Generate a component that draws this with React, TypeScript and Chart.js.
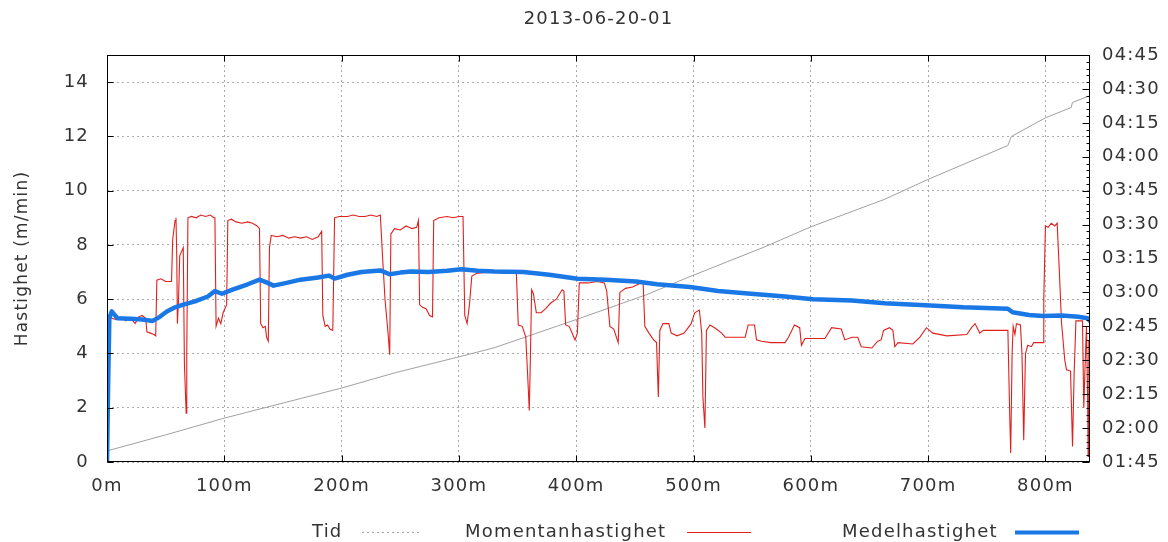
import React, { useEffect, useRef } from "react";
import { Chart, registerables } from "chart.js";

Chart.register(...registerables);

const chartTitle = "2013-06-20-01";
const yAxisTitle = "Hastighet (m/min)";
const legendLabels = ["Tid", "Momentanhastighet", "Medelhastighet"];

// x range (metres) and axis limits
const xMax = 838;
const xStep = 100;
const speedMin = 0;
const speedMax = 15;
const speedStep = 2;
// right axis: minutes since midnight (01:45 .. 04:45)
const timeMin = 105;
const timeMax = 285;
const timeStep = 15;

// Tid: [distance m, minutes since midnight]
const tid: [number, number][] = [
  [0, 109.9], [50, 117], [100, 124.4], [166, 133.2], [200, 137.7], [245, 144.4],
  [300, 151.5], [330, 155.5], [400, 168], [460, 179], [497, 187], [560, 200],
  [600, 209], [663, 221.2], [700, 230], [768, 245], [771, 249], [800, 257.2],
  [822, 261.8], [823, 264], [838, 267],
];

// Momentanhastighet: [distance m, m/min]
const momentan: [number, number][] = [
  [0, 4.1], [0.5, 4.9], [1, 4.3], [2, 5.4], [4, 5.3], [8, 5.25], [12, 5.35], [16, 5.2],
  [20, 5.3], [24, 5.1], [27, 5.35], [30, 5.4], [33, 5.3], [34, 4.8], [37, 4.75], [40, 4.7],
  [41.5, 4.65], [42.5, 6.7], [46, 6.75], [50, 6.65], [55, 6.65], [56, 8.2], [58, 8.9],
  [58.8, 9.0], [59.5, 7.5], [60, 5.1], [61, 6.0], [62, 7.6], [64, 7.8], [65, 7.9],
  [66, 3.6], [67.5, 1.8], [68, 4.0], [69, 9.0], [72, 9.05], [76, 9.0], [80, 9.1],
  [84, 9.05], [88, 9.1], [91, 9.0], [92, 9.0], [93, 5.0], [95, 5.3], [97, 5.1], [99, 5.5],
  [102, 5.8], [103, 8.9], [106, 8.95], [110, 8.85], [115, 8.8], [120, 8.85], [124, 8.8],
  [128, 8.7], [130, 8.6], [131, 5.1], [133, 4.95], [135, 5.0], [136, 4.6], [137.5, 4.45],
  [138.5, 7.9], [140, 8.35], [145, 8.3], [150, 8.35], [155, 8.25], [160, 8.3], [165, 8.25],
  [170, 8.3], [175, 8.2], [180, 8.3], [183, 8.5], [184, 5.4], [186, 5.0], [188, 5.05],
  [190, 4.9], [192.5, 4.85], [194, 9.0], [198, 9.05], [205, 9.05], [210, 9.1], [215, 9.05],
  [220, 9.05], [225, 9.1], [230, 9.05], [233, 9.1], [235, 7.5], [237, 6.0], [239.5, 4.8],
  [241, 3.95], [242, 8.4], [245, 8.6], [250, 8.55], [255, 8.7], [260, 8.6], [264, 8.65],
  [265.5, 8.9], [266.5, 5.8], [269, 5.7], [272, 5.65], [275, 5.4], [277.5, 5.35],
  [278.5, 8.9], [283, 9.0], [290, 9.05], [295, 9.0], [300, 9.05], [303.5, 9.05],
  [305, 5.4], [307, 5.1], [309, 5.8], [311, 6.85], [315, 6.95], [320, 6.98], [330, 7.0],
  [340, 6.95], [349, 6.95], [350.6, 5.05], [354, 5.0], [357, 4.6], [358.5, 3.3], [360, 1.9],
  [361, 4.0], [362, 6.35], [363.5, 6.2], [366, 5.5], [370, 5.5], [374, 5.65], [378, 5.85],
  [383, 6.0], [388, 6.35], [389.5, 6.3], [391, 5.05], [394, 5.0], [397, 4.7], [399, 4.5],
  [401, 4.75], [402.6, 6.6], [410, 6.6], [418, 6.65], [424, 6.6], [426, 6.3], [428.7, 5.0],
  [432, 4.9], [435.8, 4.4], [437.2, 6.25], [442, 6.4], [448, 6.45], [453, 6.55], [457, 6.65],
  [458.5, 5.0], [462, 4.75], [466, 4.5], [468.5, 4.4], [470, 2.4], [471.3, 4.85], [474, 5.1],
  [479, 5.1], [481, 4.75], [486, 4.65], [492, 4.75], [498, 5.1], [501, 5.5], [505, 5.6],
  [507, 4.75], [508, 2.4], [509.7, 1.25], [511, 4.85], [514, 5.05], [518, 4.95], [524, 4.75],
  [527, 4.6], [544, 4.6], [546.6, 5.05], [552, 5.05], [553.7, 4.5], [558, 4.45], [566, 4.4],
  [578, 4.4], [581, 4.6], [586, 5.05], [590.5, 4.95], [592, 4.3], [595, 4.55], [612, 4.55],
  [617.7, 4.95], [626, 4.9], [629, 4.5], [635, 4.6], [640, 4.6], [643, 4.25], [652, 4.2],
  [657, 4.45], [660, 4.5], [662, 4.85], [667, 4.95], [670, 4.85], [671.6, 4.25], [674.4, 4.4],
  [687, 4.35], [693, 4.6], [698.6, 4.95], [704, 4.75], [716, 4.65], [733, 4.7], [737, 4.95],
  [740, 5.1], [744, 4.75], [747, 4.85], [768, 4.85], [769.6, 1.67], [770.4, 0.33], [771.6, 4.0],
  [772.5, 5.0], [774, 4.7], [775.3, 5.1], [778.7, 5.05], [780, 4.0], [781.5, 0.8], [783, 4.0],
  [785, 4.3], [788, 4.25], [790, 4.4], [798, 4.4], [798.6, 6.0], [800, 8.7], [802.3, 8.65],
  [805, 8.8], [808, 8.7], [810, 8.8], [811.7, 7.2], [813.7, 5.15], [816.5, 3.75], [818, 3.4],
  [821.4, 3.35], [823.1, 0.57], [824.5, 3.3], [826, 5.2], [829.3, 5.2], [831.6, 5.2],
  [832.7, 2.0], [834, 3.8], [835, 5.0], [836, 2.3], [836.4, 0.2], [837, 4.5], [837.6, 0.9],
  [838, 4.8],
];

// Medelhastighet: [distance m, m/min]
const medel: [number, number][] = [
  [0, 0], [1, 3.0], [2, 5.3], [4, 5.55], [6, 5.45], [9, 5.3], [20, 5.28], [30, 5.25],
  [39, 5.2], [45, 5.35], [51, 5.55], [58, 5.7], [65, 5.8], [75, 5.92], [86, 6.1], [92, 6.3],
  [98, 6.2], [107, 6.35], [120, 6.55], [130, 6.72], [136, 6.62], [142, 6.5], [153, 6.6],
  [165, 6.72], [180, 6.8], [189, 6.87], [194, 6.76], [205, 6.9], [217, 7.0], [233, 7.06],
  [241, 6.92], [250, 6.98], [259, 7.02], [274, 7.0], [290, 7.05], [302, 7.1], [316, 7.05],
  [330, 7.02], [355, 7.0], [377, 6.9], [401, 6.75], [425, 6.72], [451, 6.65], [469, 6.55],
  [497, 6.45], [521, 6.3], [549, 6.2], [578, 6.1], [602, 6.0], [635, 5.95], [663, 5.85],
  [702, 5.77], [730, 5.7], [768, 5.65], [772, 5.52], [786, 5.42], [798, 5.38], [814, 5.4],
  [828, 5.35], [836, 5.3], [838, 5.2],
];

const FONT = '"DejaVu Sans", sans-serif';
const TEXT = "#333333";
const GRID = "#aaaaaa";
const RED = "#e0201c";
const BLUE = "#1a78e6";
const GRAY = "#a0a0a0";

const pad2 = (n: number) => String(n).padStart(2, "0");
const fmtTime = (m: number) => `${pad2(Math.floor(m / 60))}:${pad2(Math.round(m % 60))}`;

export default function App() {
  const ref = useRef<HTMLCanvasElement>(null);

  useEffect(() => {
    document.body.style.margin = "0";
    const canvas = ref.current!;
    const toPts = (a: [number, number][]) => a.map(([x, y]) => ({ x, y }));

    const decor = {
      id: "decor",
      beforeUpdate(c: any) {
        c.ctx.letterSpacing = "1.2px";
      },
      beforeDraw(c: any) {
        c.ctx.letterSpacing = "1.2px";
      },
      afterDatasetsDraw(c: any) {
        const { ctx, chartArea: a, scales } = c;
        ctx.save();
        ctx.strokeStyle = "#000";
        ctx.lineWidth = 1;
        ctx.setLineDash([]);
        const L = Math.round(a.left) + 0.5;
        const R = Math.round(a.right) - 0.5;
        const T = Math.round(a.top) + 0.5;
        const B = Math.round(a.bottom) - 0.5;
        ctx.beginPath();
        scales.x.ticks.forEach((t: any) => {
          const px = Math.round(scales.x.getPixelForValue(t.value)) + 0.5;
          ctx.moveTo(px, B);
          ctx.lineTo(px, B - 6);
          ctx.moveTo(px, T);
          ctx.lineTo(px, T + 6);
        });
        scales.y.ticks.forEach((t: any) => {
          const py = Math.round(scales.y.getPixelForValue(t.value)) + 0.5;
          ctx.moveTo(L, py);
          ctx.lineTo(L + 6, py);
        });
        for (let m = timeMin; m <= timeMax; m += 3) {
          const py = Math.round(scales.y2.getPixelForValue(m)) + 0.5;
          const len = (m - timeMin) % timeStep === 0 ? 7 : 3;
          ctx.moveTo(R, py);
          ctx.lineTo(R - len, py);
        }
        ctx.stroke();
        ctx.strokeRect(L, T, R - L, B - T);
        ctx.restore();
      },
      afterDraw(c: any) {
        const { ctx, chartArea: a } = c;
        ctx.save();
        ctx.letterSpacing = "1.2px";
        ctx.fillStyle = TEXT;
        ctx.textBaseline = "middle";
        ctx.font = `18px ${FONT}`;
        ctx.textAlign = "center";
        ctx.fillText(chartTitle, (a.left + a.right) / 2, 19);

        ctx.save();
        ctx.font = `17px ${FONT}`;
        ctx.translate(23, (a.top + a.bottom) / 2);
        ctx.rotate(-Math.PI / 2);
        ctx.fillText(yAxisTitle, 0, 0);
        ctx.restore();

        // legend: text followed by a sample line
        const ly = 532;
        ctx.textAlign = "left";
        ctx.font = `18px ${FONT}`;
        const items = [
          { text: legendLabels[0], tx: 312, x1: 362, x2: 421, color: GRAY, w: 1, dash: [2, 3] },
          { text: legendLabels[1], tx: 465, x1: 687, x2: 751, color: RED, w: 1.2, dash: [] },
          { text: legendLabels[2], tx: 842, x1: 1015, x2: 1079, color: BLUE, w: 4, dash: [] },
        ];
        items.forEach((it) => {
          ctx.fillText(it.text, it.tx, ly);
          ctx.save();
          ctx.strokeStyle = it.color;
          ctx.lineWidth = it.w;
          ctx.setLineDash(it.dash);
          ctx.beginPath();
          ctx.moveTo(it.x1, ly + 0.5);
          ctx.lineTo(it.x2, ly + 0.5);
          ctx.stroke();
          ctx.restore();
        });
        ctx.restore();
      },
    };

    const tickFont = { family: FONT, size: 18 };

    const chart = new Chart(canvas, {
      type: "line",
      data: {
        datasets: [
          {
            label: legendLabels[2],
            data: toPts(medel),
            borderColor: BLUE,
            borderWidth: 4.5,
            yAxisID: "y",
            order: 0,
            borderJoinStyle: "round",
            borderCapStyle: "round",
          },
          {
            label: legendLabels[1],
            data: toPts(momentan),
            borderColor: RED,
            borderWidth: 1.1,
            yAxisID: "y",
            order: 1,
          },
          {
            label: legendLabels[0],
            data: toPts(tid),
            borderColor: GRAY,
            borderWidth: 1,
            yAxisID: "y2",
            order: 2,
          },
        ],
      },
      options: {
        animation: false,
        responsive: false,
        devicePixelRatio: 1,
        elements: { point: { radius: 0, hoverRadius: 0 }, line: { tension: 0, fill: false } },
        layout: { padding: { top: 55, left: 0, right: 0, bottom: 0 } },
        plugins: {
          legend: { display: false },
          title: { display: false },
          tooltip: { enabled: false },
        },
        events: [],
        scales: {
          x: {
            type: "linear",
            min: 0,
            max: xMax,
            afterFit: (s: any) => {
              s.height = 80;
            },
            ticks: {
              stepSize: xStep,
              includeBounds: false,
              callback: (v: any) => `${v}m`,
              padding: 14,
              color: TEXT,
              font: tickFont,
              maxRotation: 0,
              autoSkip: false,
            },
            grid: { color: GRID, lineWidth: 1, drawTicks: false },
            border: { display: false, dash: [2, 3] },
          },
          y: {
            position: "left",
            min: speedMin,
            max: speedMax,
            afterFit: (s: any) => {
              s.width = 107;
            },
            ticks: {
              stepSize: speedStep,
              includeBounds: false,
              padding: 18,
              color: TEXT,
              font: tickFont,
            },
            grid: { color: GRID, lineWidth: 1, drawTicks: false },
            border: { display: false, dash: [2, 3] },
          },
          y2: {
            position: "right",
            min: timeMin,
            max: timeMax,
            afterFit: (s: any) => {
              s.width = 78;
            },
            ticks: {
              stepSize: timeStep,
              callback: (v: any) => fmtTime(Number(v)),
              padding: 12,
              color: TEXT,
              font: tickFont,
              autoSkip: false,
            },
            grid: { drawOnChartArea: false, drawTicks: false },
            border: { display: false },
          },
        },
      } as any,
      plugins: [decor],
    });

    return () => chart.destroy();
  }, []);

  return (
    <div style={{ position: "relative", width: 1168, height: 542, background: "#fff" }}>
      <canvas ref={ref} width={1168} height={542} style={{ display: "block" }} />
    </div>
  );
}
